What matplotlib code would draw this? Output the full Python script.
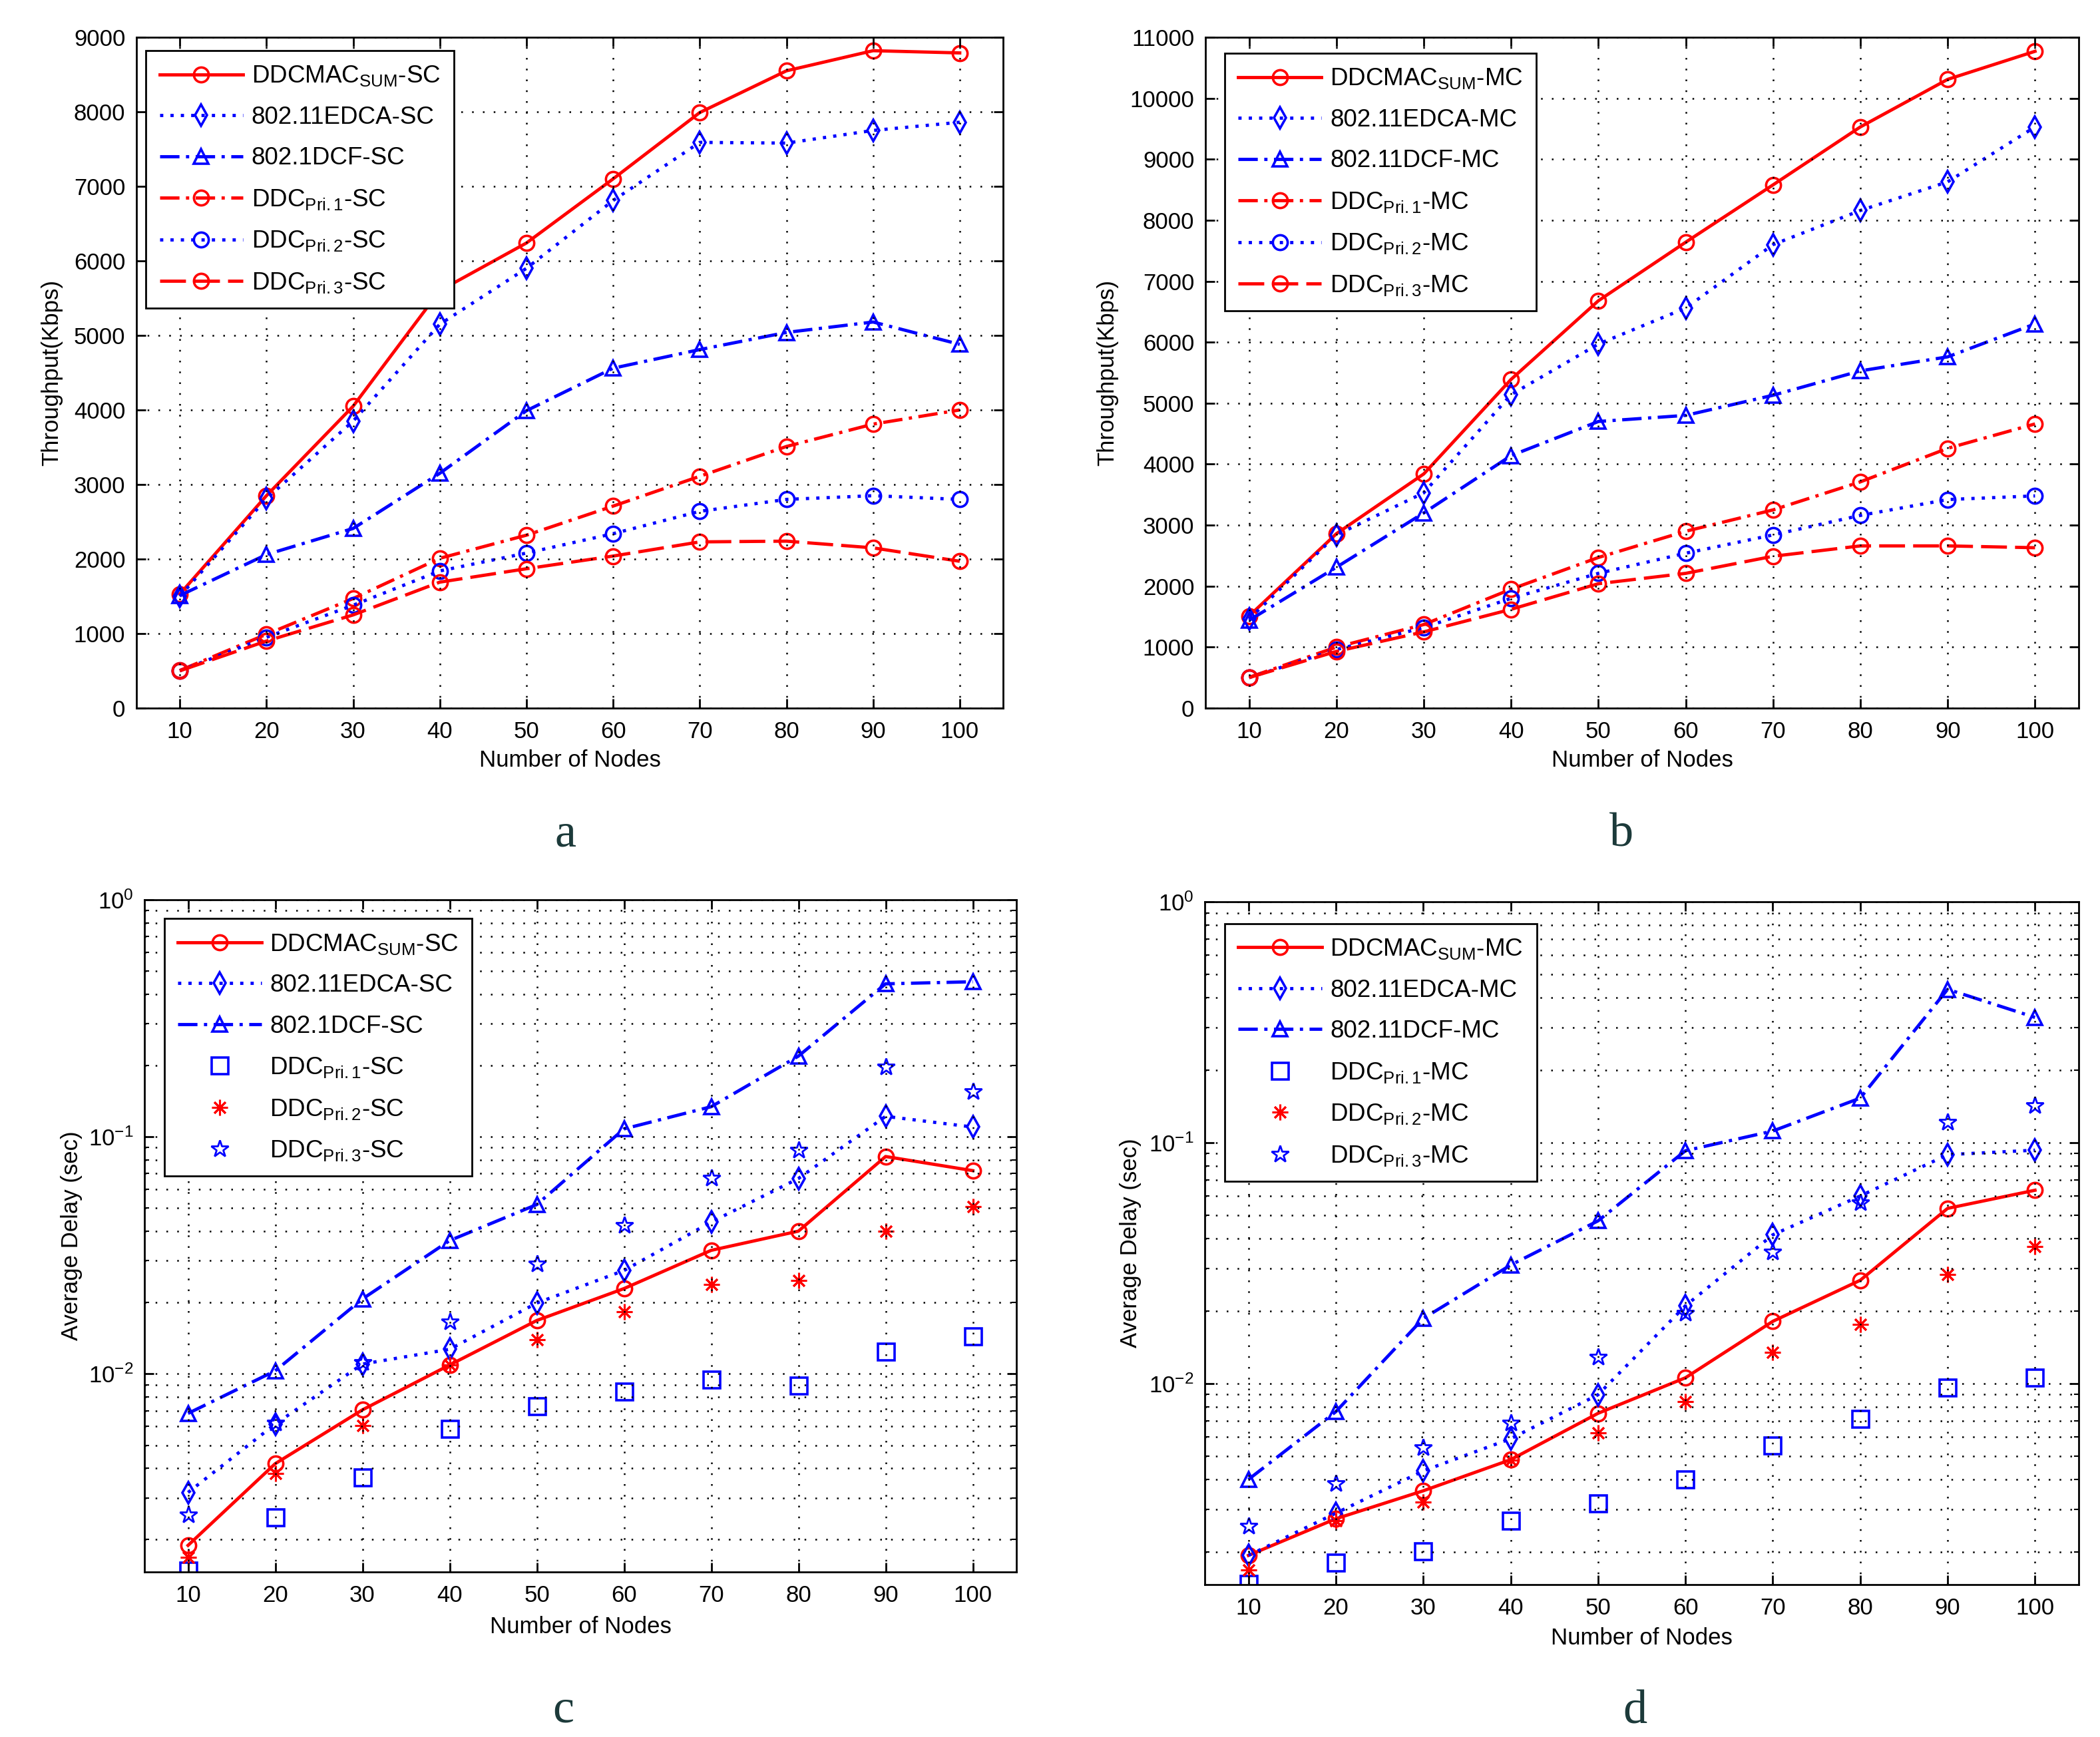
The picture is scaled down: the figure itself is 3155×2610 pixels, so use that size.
import numpy as np
import matplotlib
matplotlib.use("Agg")
import matplotlib.pyplot as plt
from matplotlib.ticker import FixedLocator, LogLocator, NullFormatter

plt.rcParams['font.family'] = ['Liberation Sans', 'DejaVu Sans']
plt.rcParams['mathtext.fontset'] = 'custom'
plt.rcParams['mathtext.rm'] = 'Liberation Sans'
plt.rcParams['mathtext.it'] = 'Liberation Sans:italic'
plt.rcParams['mathtext.bf'] = 'Liberation Sans:bold'

# ---------------- data ----------------
nodes = [10, 20, 30, 40, 50, 60, 70, 80, 90, 100]

# (a) Throughput, single channel (Kbps)
a_sum  = [1530, 2850, 4050, 5600, 6240, 7100, 7990, 8550, 8820, 8790]
a_edca = [1500, 2810, 3850, 5150, 5900, 6810, 7590, 7580, 7750, 7860]
a_dcf  = [1510, 2060, 2410, 3150, 3990, 4560, 4810, 5040, 5180, 4880]
a_pri1 = [505, 990, 1470, 2010, 2320, 2710, 3110, 3510, 3810, 4000]
a_pri2 = [500, 950, 1380, 1840, 2080, 2340, 2640, 2800, 2850, 2800]
a_pri3 = [500, 900, 1250, 1690, 1870, 2040, 2230, 2240, 2150, 1970]

# (b) Throughput, multi channel (Kbps)
b_sum  = [1510, 2860, 3840, 5390, 6680, 7640, 8580, 9530, 10310, 10770]
b_edca = [1460, 2840, 3530, 5140, 5970, 6560, 7600, 8160, 8630, 9530]
b_dcf  = [1440, 2310, 3200, 4140, 4700, 4800, 5130, 5530, 5760, 6300]
b_pri1 = [505, 1000, 1370, 1950, 2470, 2900, 3250, 3710, 4260, 4660]
b_pri2 = [500, 960, 1320, 1800, 2210, 2540, 2840, 3160, 3420, 3480]
b_pri3 = [500, 930, 1250, 1620, 2040, 2210, 2490, 2660, 2660, 2630]

# (c) Average delay, single channel (sec)
c_sum  = [0.00189, 0.00418, 0.00705, 0.0109, 0.0168, 0.0229, 0.0332, 0.0400, 0.0826, 0.0720]
c_edca = [0.00316, 0.00614, 0.0110, 0.0127, 0.0199, 0.0273, 0.0437, 0.0667, 0.122, 0.110]
c_dcf  = [0.00681, 0.0103, 0.0207, 0.0365, 0.0518, 0.108, 0.134, 0.219, 0.442, 0.451]
c_pri1 = [0.00148, 0.00248, 0.00365, 0.00585, 0.00732, 0.00840, 0.00946, 0.00890, 0.0124, 0.0144]
c_pri2 = [0.00168, 0.00379, 0.00604, 0.0109, 0.0139, 0.0183, 0.0238, 0.0247, 0.0400, 0.0509]
c_pri3 = [0.00255, 0.00620, 0.0112, 0.0166, 0.0291, 0.0423, 0.0670, 0.0877, 0.198, 0.155]

# (d) Average delay, multi channel (sec)
d_sum  = [0.00193, 0.00274, 0.00358, 0.00482, 0.00751, 0.01055, 0.0181, 0.0268, 0.0533, 0.0634]
d_edca = [0.00193, 0.00289, 0.00433, 0.00589, 0.00897, 0.0210, 0.0414, 0.0600, 0.0891, 0.0930]
d_dcf  = [0.00399, 0.00763, 0.0186, 0.0310, 0.0473, 0.0925, 0.1117, 0.153, 0.433, 0.331]
d_pri1 = [0.00147, 0.00180, 0.00201, 0.00269, 0.00318, 0.00399, 0.00552, 0.00711, 0.00963, 0.01055]
d_pri2 = [0.00168, 0.00269, 0.00322, 0.00480, 0.00622, 0.00840, 0.01346, 0.0176, 0.0284, 0.0369]
d_pri3 = [0.00255, 0.00383, 0.00543, 0.00685, 0.0129, 0.0196, 0.0352, 0.0563, 0.122, 0.1425]

x_ticks = [10, 20, 30, 40, 50, 60, 70, 80, 90, 100]
a_yticks = [0, 1000, 2000, 3000, 4000, 5000, 6000, 7000, 8000, 9000]
b_yticks = [0, 1000, 2000, 3000, 4000, 5000, 6000, 7000, 8000, 9000, 10000, 11000]

a_labels = [r'DDCMAC$_{\mathrm{SUM}}$-SC', '802.11EDCA-SC', '802.1DCF-SC',
            r'DDC$_{\mathrm{Pri.1}}$-SC', r'DDC$_{\mathrm{Pri.2}}$-SC', r'DDC$_{\mathrm{Pri.3}}$-SC']
b_labels = [r'DDCMAC$_{\mathrm{SUM}}$-MC', '802.11EDCA-MC', '802.11DCF-MC',
            r'DDC$_{\mathrm{Pri.1}}$-MC', r'DDC$_{\mathrm{Pri.2}}$-MC', r'DDC$_{\mathrm{Pri.3}}$-MC']
c_labels = a_labels
d_labels = [r'DDCMAC$_{\mathrm{SUM}}$-MC', '802.11EDCA-MC', '802.11DCF-MC',
            r'DDC$_{\mathrm{Pri.1}}$-MC', r'DDC$_{\mathrm{Pri.2}}$-MC', r'DDC$_{\mathrm{Pri.3}}$-MC']

panel_letters = ['a', 'b', 'c', 'd']

# ---------------- styles ----------------
RED = (1, 0, 0)
BLUE = (0, 0, 1)
LW = 3.5
MS = 16
MEW = 2.6
DOT = (0, (1, 2.2))
DASH = (0, (8, 2.5))
DASHDOT = (0, (6, 2, 1, 2))

FS = 25
LEG_FS = 26.5

W, H = 3155, 2610
fig = plt.figure(figsize=(W / 100, H / 100), dpi=100)


def frac_rect(l, r, t, b):
    return [l / W, 1 - b / H, (r - l) / W, (b - t) / H]


def style_axes(ax, log=False):
    for s in ax.spines.values():
        s.set_linewidth(2.0)
        s.set_color('black')
    ax.tick_params(which='major', direction='in', length=10, width=2,
                   top=True, right=True, labelsize=FS)
    ax.tick_params(axis='y', which='major', pad=12)
    ax.tick_params(axis='x', which='major', pad=14)
    ax.grid(True, which='major', color='black', linestyle=(0, (1, 5.5)), linewidth=1.8)
    if log:
        ax.tick_params(which='minor', direction='in', length=5, width=1.5,
                       top=True, right=True)
        ax.grid(True, which='minor', color='black', linestyle=(0, (1, 5.5)), linewidth=1.8)
    ax.set_axisbelow(False)


def add_legend(ax, x, y):
    leg = ax.legend(loc='upper left', bbox_to_anchor=(x, y), fontsize=LEG_FS,
                    frameon=True, fancybox=False, framealpha=1, edgecolor='black',
                    handlelength=3.4, handletextpad=0.35, labelspacing=0.72,
                    borderpad=0.55, borderaxespad=0, numpoints=1)
    leg.get_frame().set_linewidth(2.0)
    return leg


def plot_throughput(ax, series, labels, yticks, ylim):
    ssum, edca, dcf, p1, p2, p3 = series
    mk = dict(markerfacecolor='none', markersize=MS, markeredgewidth=MEW, linewidth=LW)
    ax.plot(nodes, ssum, color=RED, linestyle='-', marker='o', label=labels[0], **mk)
    ax.plot(nodes, edca, color=BLUE, linestyle=DOT, marker='d', label=labels[1], **mk)
    ax.plot(nodes, dcf, color=BLUE, linestyle=DASHDOT, marker='^', label=labels[2], **mk)
    ax.plot(nodes, p1, color=RED, linestyle=DASHDOT, marker='o', label=labels[3], **mk)
    ax.plot(nodes, p2, color=BLUE, linestyle=DOT, marker='o', label=labels[4], **mk)
    ax.plot(nodes, p3, color=RED, linestyle=DASH, marker='o', label=labels[5], **mk)
    ax.set_xlim(5, 105)
    ax.set_ylim(*ylim)
    ax.xaxis.set_major_locator(FixedLocator(x_ticks))
    ax.yaxis.set_major_locator(FixedLocator(yticks))
    style_axes(ax)


def plot_delay(ax, series, labels):
    ssum, edca, dcf, p1, p2, p3 = series
    mk = dict(markerfacecolor='none', markersize=MS, markeredgewidth=MEW, linewidth=LW)
    ax.plot(nodes, ssum, color=RED, linestyle='-', marker='o', label=labels[0], **mk)
    ax.plot(nodes, edca, color=BLUE, linestyle=DOT, marker='d', label=labels[1], **mk)
    ax.plot(nodes, dcf, color=BLUE, linestyle=DASHDOT, marker='^', label=labels[2], **mk)
    ax.plot(nodes, p1, color=BLUE, linestyle='none', marker='s', markerfacecolor='none',
            markersize=MS + 2, markeredgewidth=MEW, label=labels[3])
    ax.plot(nodes, p2, color=RED, linestyle='none', marker=(8, 2, 0),
            markersize=MS + 1, markeredgewidth=MEW - 0.4, label=labels[4])
    ax.plot(nodes, p3, color=BLUE, linestyle='none', marker='*', markerfacecolor='none',
            markersize=MS + 3, markeredgewidth=MEW - 0.6, label=labels[5])
    ax.set_yscale('log')
    ax.set_xlim(5, 105)
    ax.set_ylim(0.00146, 1)
    ax.xaxis.set_major_locator(FixedLocator(x_ticks))
    ax.yaxis.set_major_locator(LogLocator(base=10, numticks=10))
    ax.yaxis.set_minor_locator(LogLocator(base=10, subs=np.arange(2, 10), numticks=20))
    ax.yaxis.set_minor_formatter(NullFormatter())
    style_axes(ax, log=True)


# ---- panel a ----
ax_a = fig.add_axes(frac_rect(205, 1507, 56, 1064))
plot_throughput(ax_a, [a_sum, a_edca, a_dcf, a_pri1, a_pri2, a_pri3], a_labels, a_yticks, (0, 9000))
ax_a.set_xlabel('Number of Nodes', fontsize=FS)
ax_a.set_ylabel('Throughput(Kbps)', fontsize=FS)
ax_a.xaxis.set_label_coords(0.5, -0.062)
ax_a.yaxis.set_label_coords(-0.085, 0.5)
add_legend(ax_a, 0.011, 0.980)

# ---- panel b ----
ax_b = fig.add_axes(frac_rect(1811, 3123, 56, 1064))
plot_throughput(ax_b, [b_sum, b_edca, b_dcf, b_pri1, b_pri2, b_pri3], b_labels, b_yticks, (0, 11000))
ax_b.set_xlabel('Number of Nodes', fontsize=FS)
ax_b.set_ylabel('Throughput(Kbps)', fontsize=FS)
ax_b.xaxis.set_label_coords(0.5, -0.062)
ax_b.yaxis.set_label_coords(-0.100, 0.5)
add_legend(ax_b, 0.022, 0.976)

# ---- panel c ----
ax_c = fig.add_axes(frac_rect(217, 1527, 1352, 2362))
plot_delay(ax_c, [c_sum, c_edca, c_dcf, c_pri1, c_pri2, c_pri3], c_labels)
ax_c.set_xlabel('Number of Nodes', fontsize=FS)
ax_c.set_ylabel('Average Delay (sec)', fontsize=FS)
ax_c.xaxis.set_label_coords(0.5, -0.065)
ax_c.yaxis.set_label_coords(-0.071, 0.5)
add_legend(ax_c, 0.023, 0.972)

# ---- panel d ----
ax_d = fig.add_axes(frac_rect(1810, 3123, 1355, 2381))
plot_delay(ax_d, [d_sum, d_edca, d_dcf, d_pri1, d_pri2, d_pri3], d_labels)
ax_d.set_xlabel('Number of Nodes', fontsize=FS)
ax_d.set_ylabel('Average Delay (sec)', fontsize=FS)
ax_d.xaxis.set_label_coords(0.5, -0.062)
ax_d.yaxis.set_label_coords(-0.072, 0.5)
add_legend(ax_d, 0.023, 0.968)

# ---- panel letters ----
letter_pos = [(850, 1272), (2436, 1272), (846, 2587), (2456, 2590)]
for letter, (px, py) in zip(panel_letters, letter_pos):
    fig.text(px / W, 1 - py / H, letter, ha='center', va='baseline',
             fontsize=52, family=['Liberation Serif', 'DejaVu Serif'], color='#1c3a3a')

fig.savefig('out.png', dpi=100, facecolor='white')
